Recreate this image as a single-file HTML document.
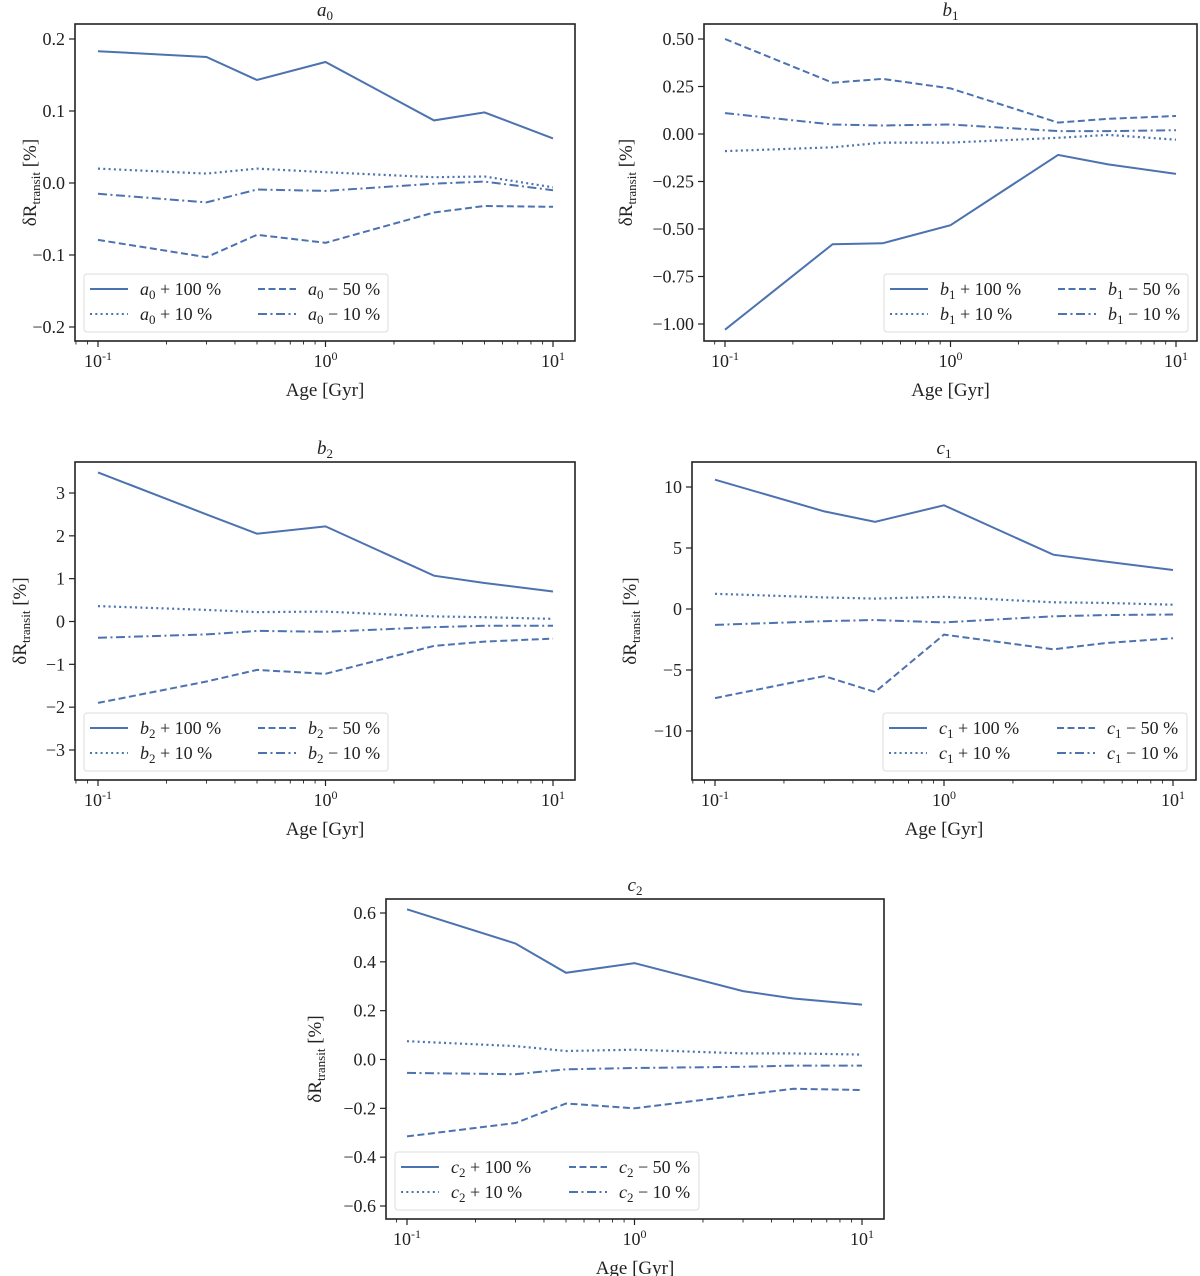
<!DOCTYPE html>
<html><head><meta charset="utf-8">
<style>
html,body{margin:0;padding:0;background:#fff;}
svg{display:block;font-family:"Liberation Serif","DejaVu Serif",serif;}
</style></head>
<body>
<svg id="fig" width="1200" height="1276" viewBox="0 0 1200 1276" xmlns="http://www.w3.org/2000/svg"></svg>
<script>
// ---- data ----
const ages = [0.1, 0.3, 0.5, 1, 3, 5, 10];
const a0_p100 = [0.183, 0.175, 0.143, 0.168, 0.087, 0.098, 0.062];
const a0_p10  = [0.020, 0.013, 0.020, 0.015, 0.008, 0.009, -0.006];
const a0_m50  = [-0.079, -0.103, -0.072, -0.083, -0.041, -0.032, -0.033];
const a0_m10  = [-0.015, -0.027, -0.009, -0.011, -0.001, 0.002, -0.010];
const b1_p100 = [-1.03, -0.58, -0.575, -0.48, -0.11, -0.16, -0.21];
const b1_p10  = [-0.09, -0.07, -0.045, -0.045, -0.02, -0.005, -0.03];
const b1_m50  = [0.50, 0.27, 0.29, 0.24, 0.06, 0.08, 0.095];
const b1_m10  = [0.11, 0.05, 0.045, 0.05, 0.015, 0.015, 0.02];
const b2_p100 = [3.48, 2.5, 2.05, 2.22, 1.07, 0.9, 0.7];
const b2_p10  = [0.36, 0.27, 0.22, 0.23, 0.12, 0.1, 0.06];
const b2_m50  = [-1.9, -1.4, -1.13, -1.22, -0.57, -0.47, -0.4];
const b2_m10  = [-0.38, -0.3, -0.22, -0.24, -0.13, -0.1, -0.1];
const c1_p100 = [10.6, 8.0, 7.15, 8.5, 4.45, 3.9, 3.2];
const c1_p10  = [1.25, 0.95, 0.85, 1.0, 0.55, 0.5, 0.35];
const c1_m50  = [-7.3, -5.5, -6.8, -2.1, -3.3, -2.8, -2.4];
const c1_m10  = [-1.3, -1.0, -0.9, -1.1, -0.6, -0.5, -0.45];
const c2_p100 = [0.615, 0.475, 0.355, 0.395, 0.28, 0.25, 0.225];
const c2_p10  = [0.075, 0.055, 0.035, 0.04, 0.025, 0.025, 0.02];
const c2_m50  = [-0.315, -0.26, -0.18, -0.2, -0.145, -0.12, -0.125];
const c2_m10  = [-0.055, -0.06, -0.04, -0.035, -0.03, -0.025, -0.025];
const a0_ticks = [0.2, 0.1, 0.0, -0.1, -0.2];
const a0_labels = ["0.2","0.1","0.0","\u22120.1","\u22120.2"];
const b1_ticks = [0.5, 0.25, 0, -0.25, -0.5, -0.75, -1.0];
const b1_labels = ["0.50","0.25","0.00","\u22120.25","\u22120.50","\u22120.75","\u22121.00"];
const b2_ticks = [3, 2, 1, 0, -1, -2, -3];
const b2_labels = ["3","2","1","0","\u22121","\u22122","\u22123"];
const c1_ticks = [10, 5, 0, -5, -10];
const c1_labels = ["10","5","0","\u22125","\u221210"];
const c2_ticks = [0.6, 0.4, 0.2, 0.0, -0.2, -0.4, -0.6];
const c2_labels = ["0.6","0.4","0.2","0.0","\u22120.2","\u22120.4","\u22120.6"];
const seriesNames = ["+100", "+10", "-50", "-10"];

// ---- layout ----
const panels = [
 {id:"a0", sym:"a", sub:"0", box:[75,24,575,341], x01:98, x10:553, yA:[0.2,39], yB:[-0.2,327], ylx:36, series:[a0_p100,a0_p10,a0_m50,a0_m10], ticks:a0_ticks, labels:a0_labels, leg:"left"},
 {id:"b1", sym:"b", sub:"1", box:[704,24,1197,341], x01:725, x10:1176, yA:[0.5,39], yB:[-1.0,324], ylx:632, series:[b1_p100,b1_p10,b1_m50,b1_m10], ticks:b1_ticks, labels:b1_labels, leg:"right"},
 {id:"b2", sym:"b", sub:"2", box:[75,462,575,780], x01:98, x10:553, yA:[3,493], yB:[-3,750], ylx:26, series:[b2_p100,b2_p10,b2_m50,b2_m10], ticks:b2_ticks, labels:b2_labels, leg:"left"},
 {id:"c1", sym:"c", sub:"1", box:[692,462,1196,780], x01:715, x10:1173, yA:[10,487], yB:[-10,731], ylx:636, series:[c1_p100,c1_p10,c1_m50,c1_m10], ticks:c1_ticks, labels:c1_labels, leg:"right"},
 {id:"c2", sym:"c", sub:"2", box:[386,899,884,1219], x01:407, x10:862, yA:[0.6,913], yB:[-0.6,1206], ylx:321, series:[c2_p100,c2_p10,c2_m50,c2_m10], ticks:c2_ticks, labels:c2_labels, leg:"left"}
];
const COLOR = "#4c72b0";
const dashes = ["", "2,3.3", "7,3.5", "9,3.5,2,3.5"];
const labelsTxt = [" + 100 %", " + 10 %", " \u2212 50 %", " \u2212 10 %"];
const NS = "http://www.w3.org/2000/svg";
const fig = document.getElementById("fig");
function mk(tag, attrs, parent){ const e=document.createElementNS(NS,tag); for(const k in attrs) e.setAttribute(k,attrs[k]); (parent||fig).appendChild(e); return e; }

panels.forEach(p=>{
  const g = mk("g",{});
  
  
  const [L,T,R,B] = p.box;
  const dec = (p.x10-p.x01)/2;
  const xs = v => p.x01 + (Math.log10(v)+1)*dec;
  const ys = v => p.yA[1] + (v-p.yA[0])*(p.yB[1]-p.yA[1])/(p.yB[0]-p.yA[0]);
  const cx = (L+R)/2;
  const t = mk("text",{x:cx,y:T-8,"text-anchor":"middle","font-size":19,"font-style":"italic",fill:"#222"},g);
  
  
  t.innerHTML = p.sym+'<tspan font-style="normal" font-size="13" dy="4">'+p.sub+'</tspan>';
  p.ticks.forEach((v,i)=>{
    const y = ys(v);
    mk("line",{x1:L-6,x2:L,y1:y,y2:y,stroke:"#222","stroke-width":1.2},g);
    const tl = mk("text",{x:L-10,y:y+6,"text-anchor":"end","font-size":18,fill:"#222"},g);
    
    
    tl.textContent = p.labels[i];
  });
  for(let e=-2;e<=1;e++){
    for(let m=1;m<=9;m++){
      const v = m*Math.pow(10,e);
      const x = xs(v);
      if(x < L-0.5 || x > R+0.5) continue;
      const major = m===1;
      mk("line",{x1:x,x2:x,y1:B,y2:B+(major?6:3.5),stroke:"#222","stroke-width":major?1.2:0.9},g);
      if(major){
        const tl = mk("text",{x:x,y:B+26,"text-anchor":"middle","font-size":18,fill:"#222"},g);
        
        
        tl.innerHTML = '10<tspan font-size="12" dy="-7">'+e+'</tspan>';
      }
    }
  }
  const xl = mk("text",{x:cx,y:B+55,"text-anchor":"middle","font-size":19,fill:"#222"},g);
  
  
  xl.textContent = "Age [Gyr]";
  const yx = p.ylx, yy=(T+B)/2;
  const yl = mk("text",{x:yx,y:yy,"text-anchor":"middle","font-size":19,fill:"#222",transform:"rotate(-90 "+yx+" "+yy+")"},g);
  
  
  yl.innerHTML = 'δR<tspan font-size="13" dy="4">transit</tspan><tspan dy="-4"> [%]</tspan>';
  p.series.forEach((arr,si)=>{
    const d = arr.map((v,i)=>(i?"L":"M")+xs(ages[i]).toFixed(1)+","+ys(v).toFixed(1)).join(" ");
    const path = mk("path",{d:d,fill:"none",stroke:COLOR,"stroke-width":si===1?2.2:2,"stroke-dasharray":dashes[si]},g);
    
    
  });
  const fr = mk("rect",{x:L,y:T,width:R-L,height:B-T,fill:"none",stroke:"#222","stroke-width":1.6},g);
  
  
  const lw=304, lh=58;
  const lx = p.leg==="left" ? L+9 : R-9-lw;
  const ly = B-9-lh;
  const lg = mk("g",{},g);
  
  
  mk("rect",{x:lx,y:ly,width:lw,height:lh,rx:3,fill:"#fff","fill-opacity":0.85,stroke:"#ddd","stroke-width":1},lg);
  [0,1,2,3].forEach(si=>{
    const col = si>=2?1:0, row = si%2;
    const hx = lx+6+col*168, hy = ly+15+row*25;
    mk("line",{x1:hx,x2:hx+38,y1:hy,y2:hy,stroke:COLOR,"stroke-width":2,"stroke-dasharray":dashes[si]},lg);
    const tx = mk("text",{x:hx+50,y:hy+6,"font-size":18,fill:"#222"},lg);
    
    
    tx.innerHTML = '<tspan font-style="italic">'+p.sym+'</tspan><tspan font-size="13" dy="4">'+p.sub+'</tspan><tspan dy="-4">'+labelsTxt[si]+'</tspan>';
  });
});
</script>
</body></html>
